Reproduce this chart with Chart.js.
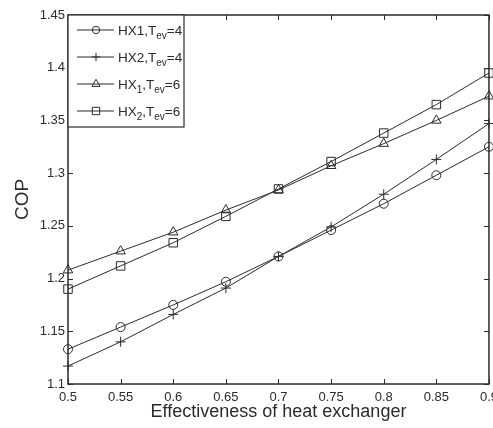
<!DOCTYPE html>
<html>
<head>
<meta charset="utf-8">
<script src="https://cdn.jsdelivr.net/npm/chart.js@4.4.1/dist/chart.umd.min.js"></script>
<style>
  html, body { margin: 0; padding: 0; background: #fff; overflow: hidden; }
  #wrap { width: 493px; height: 428px; overflow: hidden; position: relative; }
  canvas { display: block; }
</style>
</head>
<body>
<div id="wrap"><canvas id="copChart" width="504" height="428"></canvas></div>
<script>
const effectiveness = [0.5, 0.55, 0.6, 0.65, 0.7, 0.75, 0.8, 0.85, 0.9];

const hx1Tev4 = [1.133, 1.154, 1.175, 1.197, 1.221, 1.246, 1.271, 1.298, 1.325];
const hx2Tev4 = [1.117, 1.140, 1.166, 1.191, 1.221, 1.249, 1.280, 1.313, 1.347];
const hx1Tev6 = [1.208, 1.226, 1.244, 1.265, 1.284, 1.307, 1.328, 1.350, 1.373];
const hx2Tev6 = [1.190, 1.212, 1.234, 1.259, 1.285, 1.311, 1.338, 1.365, 1.395];

const seriesNames = ["HX1,Tev=4", "HX2,Tev=4", "HX_1,Tev=6", "HX_2,Tev=6"];
// legend text pieces: [text, isSubscript]
const legendLabels = [
  [["HX1,T", 0], ["ev", 1], ["=4", 0]],
  [["HX2,T", 0], ["ev", 1], ["=4", 0]],
  [["HX", 0], ["1", 1], [",T", 0], ["ev", 1], ["=6", 0]],
  [["HX", 0], ["2", 1], [",T", 0], ["ev", 1], ["=6", 0]]
];
const markers = ["circle", "cross", "triangle", "rect"];
const markerSizes = [4.5, 5, 5.5, 6];

const xTitle = "Effectiveness of heat exchanger";
const yTitle = "COP";

const FONT = "'Liberation Sans', Arial, Helvetica, sans-serif";
const INK = "#2b2b2b";

function toPoints(ys) {
  return ys.map((y, i) => ({ x: effectiveness[i], y }));
}

const allSeries = [hx1Tev4, hx2Tev4, hx1Tev6, hx2Tev6];

const datasets = allSeries.map((ys, i) => ({
  label: seriesNames[i],
  data: toPoints(ys),
  borderColor: INK,
  borderWidth: 1,
  backgroundColor: "rgba(0,0,0,0)",
  pointStyle: markers[i],
  pointRadius: markerSizes[i],
  pointBorderColor: INK,
  pointBorderWidth: 1,
  pointBackgroundColor: "rgba(0,0,0,0)",
  tension: 0,
  clip: false
}));

// box around plot area with inward ticks on all four sides
const boxTicks = {
  id: "boxTicks",
  afterDraw(chart) {
    const { ctx, chartArea: a, scales } = chart;
    ctx.save();
    ctx.strokeStyle = INK;
    ctx.lineWidth = 1;
    const len = 5;
    ctx.beginPath();
    scales.x.ticks.forEach(t => {
      const px = Math.round(scales.x.getPixelForValue(t.value)) + 0.5;
      ctx.moveTo(px, a.bottom);
      ctx.lineTo(px, a.bottom - len);
      ctx.moveTo(px, a.top);
      ctx.lineTo(px, a.top + len);
    });
    scales.y.ticks.forEach(t => {
      const py = Math.round(scales.y.getPixelForValue(t.value)) + 0.5;
      ctx.moveTo(a.left, py);
      ctx.lineTo(a.left + len, py);
      ctx.moveTo(a.right, py);
      ctx.lineTo(a.right - len, py);
    });
    ctx.stroke();
    ctx.lineWidth = 1.5;
    ctx.strokeRect(a.left, a.top, a.right - a.left, a.bottom - a.top);
    ctx.restore();
  }
};

// MATLAB style legend with subscripts
const subLegend = {
  id: "subLegend",
  afterDraw(chart) {
    const { ctx, chartArea: a } = chart;
    const x0 = a.left, y0 = a.top, w = 116, h = 112;
    ctx.save();
    ctx.fillStyle = "#fff";
    ctx.fillRect(x0, y0, w, h);
    ctx.strokeStyle = INK;
    ctx.lineWidth = 1.2;
    ctx.strokeRect(x0, y0, w, h);
    const rowH = 27;
    legendLabels.forEach((parts, i) => {
      const cy = y0 + 15 + i * rowH;
      ctx.strokeStyle = INK;
      ctx.lineWidth = 1;
      ctx.beginPath();
      ctx.moveTo(x0 + 9, cy);
      ctx.lineTo(x0 + 46, cy);
      ctx.stroke();
      ctx.fillStyle = "rgba(0,0,0,0)";
      Chart.helpers.drawPoint(ctx, {
        pointStyle: markers[i],
        radius: markerSizes[i] - 0.8,
        borderWidth: 1
      }, x0 + 28, cy);
      ctx.fillStyle = INK;
      ctx.textBaseline = "alphabetic";
      let tx = x0 + 50;
      parts.forEach(([txt, sub]) => {
        ctx.font = (sub ? "10px " : "13.5px ") + FONT;
        ctx.fillText(txt, tx, cy + 5 + (sub ? 4 : 0));
        tx += ctx.measureText(txt).width;
      });
    });
    ctx.restore();
  }
};

const fmt = v => String(Math.round(v * 100) / 100);

new Chart(document.getElementById("copChart"), {
  type: "line",
  data: { datasets },
  options: {
    responsive: false,
    animation: false,
    events: [],
    layout: { padding: { top: 15, left: 0, right: 0, bottom: 0 } },
    plugins: {
      legend: { display: false },
      tooltip: { enabled: false }
    },
    scales: {
      x: {
        type: "linear",
        min: 0.5,
        max: 0.9,
        grid: { display: false, drawTicks: false },
        border: { display: false },
        ticks: {
          stepSize: 0.05,
          padding: 6,
          color: INK,
          font: { family: FONT, size: 13 },
          maxRotation: 0,
          autoSkip: false,
          callback: fmt
        },
        title: {
          display: true,
          text: xTitle,
          color: INK,
          font: { family: FONT, size: 18 },
          padding: { top: 0, bottom: 5 }
        },
        afterFit(scale) { scale.height = 44; }
      },
      y: {
        type: "linear",
        min: 1.1,
        max: 1.45,
        grid: { display: false, drawTicks: false },
        border: { display: false },
        ticks: {
          stepSize: 0.05,
          padding: 3,
          color: INK,
          font: { family: FONT, size: 13 },
          autoSkip: false,
          callback: fmt
        },
        title: {
          display: true,
          text: yTitle,
          color: INK,
          font: { family: FONT, size: 19 },
          padding: { top: 11, bottom: 0 }
        },
        afterFit(scale) { scale.width = 68; }
      }
    }
  },
  plugins: [boxTicks, subLegend]
});
</script>
</body>
</html>
